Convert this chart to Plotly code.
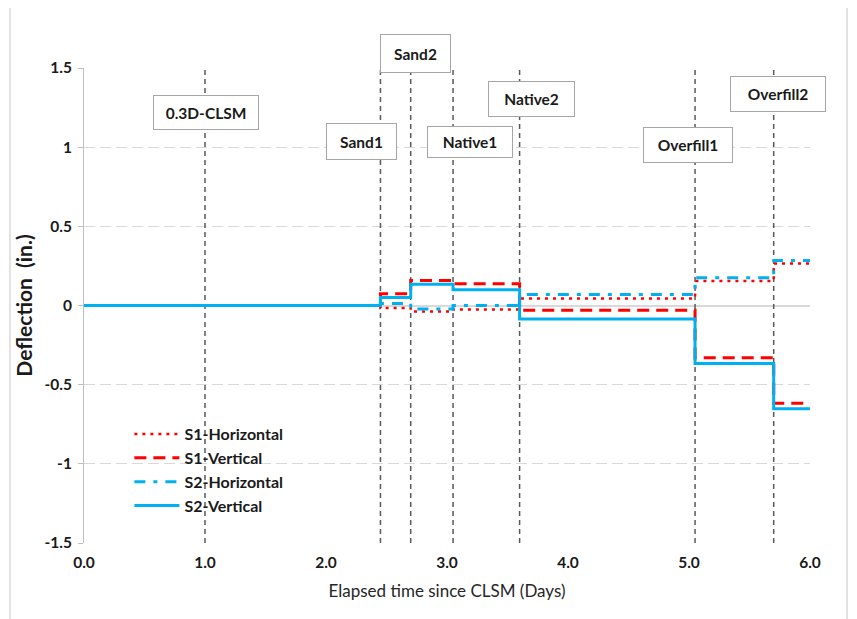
import plotly.graph_objects as go

# ---- data ----
times = [0.0, 2.45, 2.7, 3.05, 3.6, 5.05, 5.7, 6.0]
s1_horizontal = [0.0, -0.015, -0.038, -0.025, 0.044, 0.155, 0.265, 0.265]
s1_vertical = [0.0, 0.075, 0.158, 0.137, -0.03, -0.33, -0.617, -0.617]
s2_horizontal = [0.0, 0.013, -0.022, 0.0, 0.07, 0.175, 0.284, 0.284]
s2_vertical = [0.0, 0.05, 0.135, 0.10, -0.085, -0.366, -0.652, -0.652]

event_times = [1.0, 2.45, 2.7, 3.05, 3.6, 5.05, 5.7]
event_labels = ["0.3D-CLSM", "Sand1", "Sand2", "Native1", "Native2", "Overfill1", "Overfill2"]

x_ticks = [0, 1, 2, 3, 4, 5, 6]
x_ticktext = ["0.0", "1.0", "2.0", "3.0", "4.0", "5.0", "6.0"]
y_ticks = [-1.5, -1, -0.5, 0, 0.5, 1, 1.5]
y_ticktext = ["-1.5", "-1", "-0.5", "0", "0.5", "1", "1.5"]

FONT = "Lato"
RED = "#FF0000"
BLUE = "#00B0F0"

fig = go.Figure()
series = [
    ("S1-Horizontal", s1_horizontal, RED, "3px,5px", 2.5),
    ("S1-Vertical", s1_vertical, RED, "12px,7px", 3),
    ("S2-Horizontal", s2_horizontal, BLUE, "11px,8px,4px,8px", 3),
    ("S2-Vertical", s2_vertical, BLUE, "solid", 3),
]
for name, vals, col, dash, w in series:
    fig.add_trace(go.Scatter(
        x=times, y=vals, name=name, mode="lines", line_shape="hv",
        line=dict(color=col, dash=dash, width=w),
    ))

shapes = []
for t in event_times:
    shapes.append(dict(type="line", xref="x", yref="y", x0=t, x1=t, y0=-1.5, y1=1.5,
                       line=dict(color="#595959", width=1.5, dash="5px,4px"), layer="between"))
# outer chart border
shapes.append(dict(type="rect", xref="paper", yref="paper", x0=-0.102, x1=1.051, y0=-0.2, y1=1.135,
                   line=dict(color="#d9d9d9", width=1.5), layer="below"))

# annotation boxes: (x in days, y in paper fraction, width px, height px)
box_specs = [
    (1.008, 0.906, 106, 35),
    (2.293, 0.845, 71, 37),
    (2.740, 1.030, 71, 39),
    (3.190, 0.844, 86, 32),
    (3.698, 0.935, 87, 36),
    (4.992, 0.838, 90, 36),
    (5.736, 0.945, 96, 36),
]
annotations = []
for label, (ax, ay, bw, bh) in zip(event_labels, box_specs):
    annotations.append(dict(
        x=ax, y=ay, xref="x", yref="paper", xanchor="center", yanchor="middle",
        text=label, showarrow=False,
        font=dict(family=FONT, size=15.5, color="#1a1a1a", weight="bold"),
        bgcolor="white", bordercolor="#a6a6a6", borderwidth=1, borderpad=0,
        width=bw - 2, height=bh - 2, align="center", valign="middle",
    ))

fig.update_layout(
    width=857, height=619,
    margin=dict(l=76, r=55, t=60, b=84),
    paper_bgcolor="white", plot_bgcolor="white",
    shapes=shapes, annotations=annotations,
    showlegend=True,
    legend=dict(x=0.0625, y=0.265, xanchor="left", yanchor="top",
                bgcolor="rgba(0,0,0,0)", borderwidth=0, itemwidth=45,
                font=dict(family=FONT, size=16, color="#1a1a1a", weight="bold"),
                tracegroupgap=0),
    xaxis=dict(
        range=[0, 6], tickvals=x_ticks, ticktext=x_ticktext, automargin=False,
        showgrid=False, zeroline=False, showline=False,
        ticks="", ticklabelstandoff=8,
        tickfont=dict(family=FONT, size=15.5, color="#1a1a1a", weight="bold"),
        title=dict(text="Elapsed time since CLSM (Days)",
                   font=dict(family=FONT, size=17, color="#262626")),
    ),
    yaxis=dict(
        range=[-1.5, 1.5], tickvals=y_ticks, ticktext=y_ticktext, automargin=True,
        showgrid=True, gridcolor="#d9d9d9", griddash="11px,5px", gridwidth=1,
        zeroline=True, zerolinecolor="#d9d9d9", zerolinewidth=1.5,
        showline=True, linecolor="#bfbfbf", linewidth=1,
        ticks="outside", ticklen=5, tickcolor="#bfbfbf", ticklabelstandoff=3,
        tickfont=dict(family=FONT, size=15.5, color="#1a1a1a", weight="bold"),
        title=dict(text="Deflection  (in.)", standoff=6,
                   font=dict(family=FONT, size=21, color="#1a1a1a", weight="bold")),
    ),
)

fig.write_html("out.html")
